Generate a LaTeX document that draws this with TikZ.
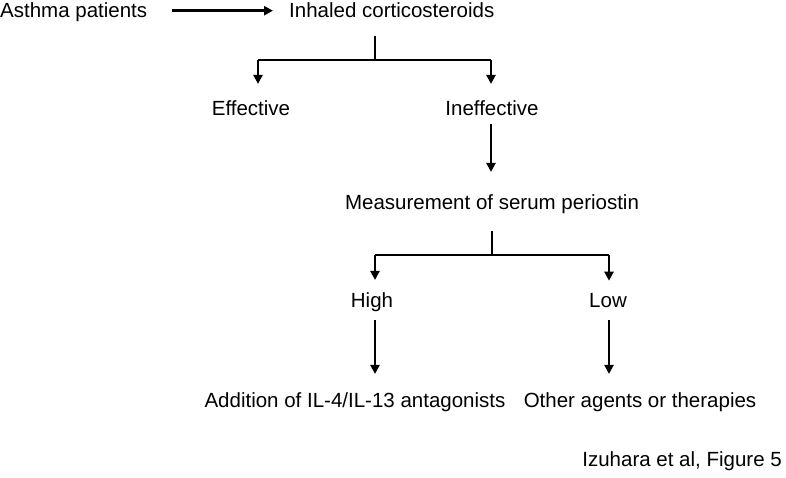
\documentclass[tikz,border=0pt]{standalone}
\usepackage{fontspec}
\setmainfont{Liberation Sans}
\usetikzlibrary{arrows.meta,calc}

\begin{document}
\begin{tikzpicture}[x=1pt,y=-1pt,
  txt/.style={inner sep=0pt,anchor=base,font=\fontsize{20.5}{24}\selectfont},
  link/.style={line width=1.7pt},
  arr/.style={line width=2.7pt,-{Triangle[length=9pt,width=9pt]}}]
\useasboundingbox (0,0) rectangle (786,478);

% Texts
\node[txt,anchor=base west] (asthma) at (0,18) {Asthma patients};
\node[txt,anchor=base west] (inh) at (289,18) {Inhaled corticosteroids};
\node[txt] (eff) at (251,115.5) {Effective};
\node[txt] (ineff) at (492,115.5) {Ineffective};
\node[txt] (meas) at (492,210) {Measurement of serum periostin};
\node[txt] (high) at (372,307) {High};
\node[txt] (low) at (608,307) {Low};
\node[txt] (add) at (355,407) {Addition of IL-4/IL-13 antagonists};
\node[txt] (oth) at (640,407) {Other agents or therapies};
\node[txt,anchor=base east] (cite) at (782,466.5) {Izuhara et al, Figure 5};

% Split points
\coordinate (s1) at (375,60);
\coordinate (l1) at (258,60);
\coordinate (r1) at (491,60);
\coordinate (s2) at (492,255);
\coordinate (l2) at (375,255);
\coordinate (r2) at (609,255);

% Treatment
\draw[arr,shorten <=25pt,shorten >=16pt] ([yshift=2pt]asthma.east) -- ([yshift=2pt]asthma.east -| inh.west);
\draw[link,shorten <=18pt] (inh.south -| s1) -- (s1);
\draw[link] (l1) -- (r1);
\draw[arr,shorten >=16.5pt] (l1) -- (l1 |- eff.north);
\draw[arr,shorten >=16.5pt] (r1) -- (r1 |- ineff.north);

% Periostin
\draw[arr,shorten <=8.5pt,shorten >=23pt] (ineff.south -| r1) -- (meas.north -| r1);
\draw[link,shorten <=16.5pt] (meas.south -| s2) -- (s2);
\draw[link] (l2) -- (r2);
\draw[arr,shorten >=12pt] (l2) -- (l2 |- high.north);
\draw[arr,shorten >=12pt] (r2) -- (r2 |- low.north);

% Therapies
\draw[arr,shorten <=8.5pt,shorten >=18pt] (high.south -| l2) -- (add.north -| l2);
\draw[arr,shorten <=13pt,shorten >=18pt] (low.south -| r2) -- (oth.north -| r2);
\end{tikzpicture}
\end{document}
